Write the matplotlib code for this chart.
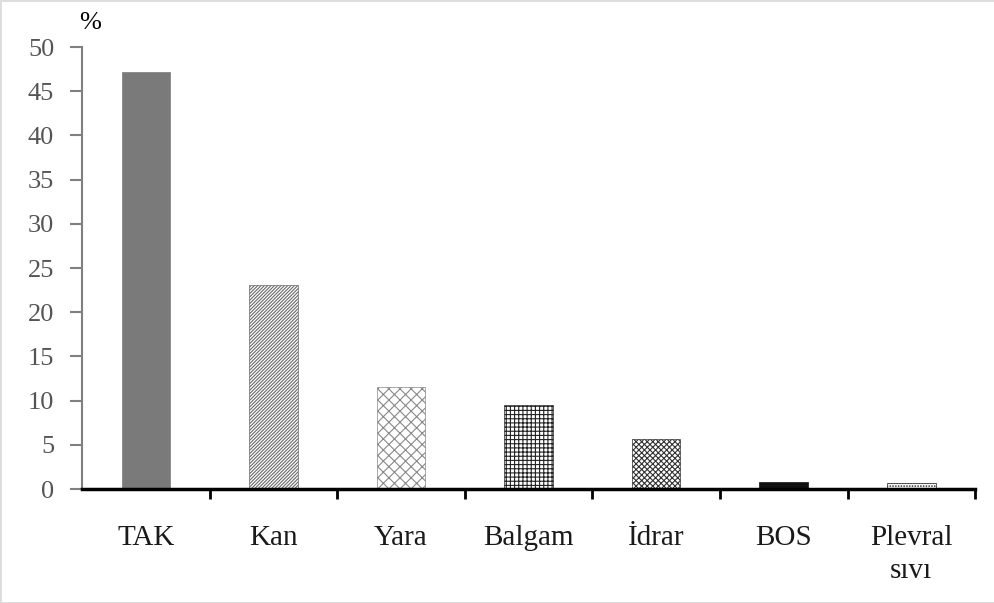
import matplotlib
matplotlib.use("Agg")
from matplotlib import pyplot as plt

categories = ["TAK", "Kan", "Yara", "Balgam", "İdrar", "BOS", "Plevral\nsıvı"]
values = [47.2, 23.1, 11.5, 9.5, 5.7, 0.8, 0.7]
yticks = [0, 5, 10, 15, 20, 25, 30, 35, 40, 45, 50]

plt.rcParams['font.family'] = ['Liberation Serif', 'DejaVu Serif']
plt.rcParams['hatch.linewidth'] = 0.8

fig = plt.figure(figsize=(9.95, 6.03), dpi=100)
ax = fig.add_axes([0.0824, 0.189, 0.8976, 0.733])

# dolgu desenleri (orijinaldeki Excel desenlerine yakın)
faces = ["#7a7a7a", "white", "white", "white", "white", "#111111", "white"]
edges = ["#7a7a7a", "#6a6a6a", "#888888", "#222222", "#333333", "#111111", "#222222"]
hatches = [None, "//////////", "xxx", "++++", "xxxxxx", None, "......"]

xs = list(range(len(categories)))
for x, v, fc, ec, h in zip(xs, values, faces, edges, hatches):
    ax.bar(x, v, width=0.38, color=fc, edgecolor=ec, hatch=h, linewidth=0.5)

ax.set_xlim(-0.5, len(categories) - 0.5)
ax.set_ylim(0, 50)
ax.set_yticks(yticks)
ax.set_yticklabels([str(t) for t in yticks], fontsize=19, color="#555555")

# x ekseni: kategori sınırlarında çentikler
ax.set_xticks([x + 0.5 for x in xs])
ax.set_xticklabels([])
ax.set_xticks(xs, minor=True)
ax.set_xticklabels(categories, minor=True, fontsize=21, color="#1a1a1a",
                   linespacing=1.35, va="top")
ax.tick_params(axis="x", which="minor", length=0, pad=26)
ax.tick_params(axis="x", which="major", length=7, width=2, color="black", direction="out")
ax.tick_params(axis="y", length=9, width=1.5, color="#808080", direction="out", pad=11)

ax.spines["top"].set_visible(False)
ax.spines["right"].set_visible(False)
ax.spines["left"].set_color("#808080")
ax.spines["left"].set_linewidth(1.5)
ax.spines["bottom"].set_linewidth(2.5)

fig.text(0.08, 0.962, "%", fontsize=19, ha="left", va="center")

fig.patch.set_edgecolor("#dddddd")
fig.patch.set_linewidth(2)

fig.savefig("out.png", dpi=100, edgecolor=fig.get_edgecolor())
